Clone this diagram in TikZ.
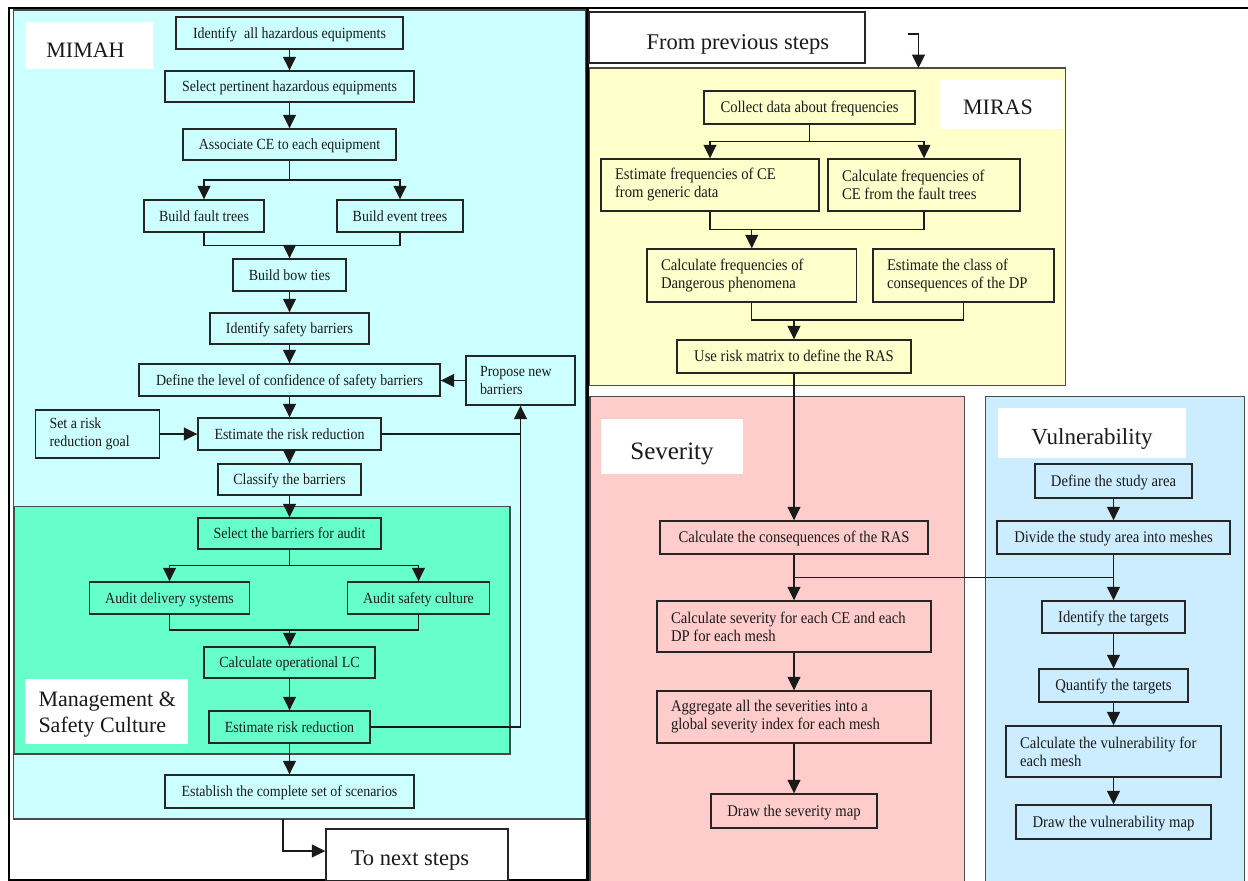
\documentclass[tikz,border=0pt]{standalone}
\usepackage{fontspec}
\setmainfont{Liberation Serif}
\newfontfamily\boxfont{Liberation Serif}[FakeStretch=0.9]
\usetikzlibrary{arrows.meta,fit,calc}
\definecolor{cyanbg}{HTML}{CCFFFF}
\definecolor{greenbg}{HTML}{66FFCC}
\definecolor{yellowbg}{HTML}{FFFFCC}
\definecolor{pinkbg}{HTML}{FFCCCC}
\definecolor{bluebg}{HTML}{CCECFF}
\definecolor{boxline}{HTML}{262626}
\definecolor{panelline}{HTML}{4A4A4A}
\definecolor{txt}{HTML}{1A1A1A}
\begin{document}
\begin{tikzpicture}[x=1pt,y=-1pt,
  boxbase/.style={draw=boxline, line width=1.4pt, inner sep=0pt, text=txt},
  box/.style={boxbase, text height=11.5pt, text depth=1.5pt, font=\boxfont\fontsize{15.5}{18}\selectfont},
  lboxl/.style={boxbase, align=flush left, font=\boxfont\fontsize{15.5}{18}\selectfont},
  rbox/.style={boxbase, text height=11.5pt, text depth=1.5pt, font=\boxfont\fontsize{16.3}{18}\selectfont},
  lbox/.style={boxbase, align=flush left, font=\boxfont\fontsize{16.3}{18}\selectfont},
  panel/.style={draw=panelline, line width=1.5pt},
  arr/.style={draw=txt, line width=1.2pt, -{Triangle[length=13.5pt,width=13pt]}},
  ln/.style={draw=txt, line width=1.2pt},
  whitelab/.style={fill=white, draw=none, inner sep=0pt},
  ttl/.style={text=txt, inner sep=0pt, anchor=base, font=\fontsize{22}{26}\selectfont},
  ttlbox/.style={draw=boxline, line width=1.4pt, fill=white, inner sep=0pt},
  sz/.style 2 args={minimum width=#1pt, minimum height=#2pt}]
\useasboundingbox (0,0) rectangle (1248,881);
\clip (0,0) rectangle (1248,881);
\fill[white] (0,0) rectangle (1248,881);
% panels
\draw[panel, fill=cyanbg] (13.5,10) rectangle (586,819);
\draw[panel, fill=greenbg] (14.5,506.5) rectangle (510,754);
\draw[panel, fill=yellowbg] (589.5,68) rectangle (1065.5,385.5);
\draw[panel, fill=pinkbg] (590,396.5) rectangle (964.5,900);
\draw[panel, fill=bluebg] (985.5,396.5) rectangle (1244.5,900);
% outer frame
\draw[line width=2pt, black] (1250,7.5) -- (9,7.5) -- (9,880) -- (587.5,880);
\draw[line width=2.5pt, black] (587.5,6.5) -- (587.5,885);
% labels
\node[whitelab, fit={(25,22) (153,69)}] (mimahlab) {};
\node[ttl] (mimahtxt) at (85.5,57.3) {MIMAH};
\node[whitelab, fit={(940,80) (1063.5,129.3)}] (miraslab) {};
\node[ttl] (mirastxt) at (998,114.3) {MIRAS};
\node[whitelab, fit={(600.5,419.3) (742.8,474)}] (sevlab) {};
\node[ttl, font=\fontsize{25}{30}\selectfont] (sevtxt) at (672,459) {Severity};
\node[whitelab, fit={(997.5,408.3) (1186.3,458.3)}] (vullab) {};
\node[ttl, font=\fontsize{23}{28}\selectfont] (vultxt) at (1092,444.3) {Vulnerability};
\node[whitelab, fit={(25,679) (187.5,743.7)}] (mgtlab) {};
\node[ttl, anchor=base west] (mgttxt1) at (38.3,706.7) {Management \&};
\node[ttl, anchor=base west] (mgttxt2) at (38.3,732.3) {Safety Culture};
\node[ttlbox, fit={(589,12) (865,63)}] (prevbox) {};
\node[ttl, font=\fontsize{22.5}{27}\selectfont] (prevtxt) at (737.8,49.3) {From previous steps};
\node[ttlbox, fit={(326,829) (508,881)}] (nextbox) {};
\node[ttl, font=\fontsize{22.5}{27}\selectfont] (nexttxt) at (410,865) {To next steps};
% MIMAH boxes
\node[box, sz={227}{32}] (a1) at (289.5,33) {Identify\ \ all hazardous equipments};
\node[box, sz={249}{31}] (a2) at (289.5,86.5) {Select pertinent hazardous equipments};
\node[box, sz={213}{31}] (a3) at (289.5,144.5) {Associate CE to each equipment};
\node[box, sz={120}{32}] (a4) at (204,216) {Build fault trees};
\node[box, sz={126}{32}] (a5) at (400,216) {Build event trees};
\node[box, sz={113}{32}] (a6) at (289.5,275) {Build bow ties};
\node[box, sz={159}{31}] (a7) at (289.5,328.5) {Identify safety barriers};
\node[box, sz={301}{32}] (a8) at (289.5,380) {Define the level of confidence of safety barriers};
\node[lboxl, sz={109}{49}, text width=81pt] (a9) at (520.5,380.5) {Propose new\\barriers};
\node[lboxl, sz={124}{48}, text width=96pt] (a10) at (97.5,434) {Set a risk\\reduction goal};
\node[box, sz={183}{32}] (a11) at (289.5,434) {Estimate the risk reduction};
\node[box, sz={143}{31}] (a12) at (289.5,479.5) {Classify the barriers};
\node[box, sz={183}{31}] (a13) at (289.5,533.5) {Select the barriers for audit};
\node[box, sz={160}{32}] (a14) at (169.5,598) {Audit delivery systems};
\node[box, sz={142}{32}] (a15) at (418.5,598) {Audit safety culture};
\node[box, sz={171}{31}] (a16) at (289.5,662.5) {Calculate operational LC};
\node[box, sz={161}{32}] (a17) at (289.5,727) {Estimate risk reduction};
\node[box, sz={249}{33}] (a18) at (289.5,791.5) {Establish the complete set of scenarios};
% MIRAS boxes
\node[rbox, sz={211}{33}] (b1) at (809.5,107.5) {Collect data about frequencies};
\node[lbox, sz={218}{52}, text width=190pt] (b2) at (710,185) {Estimate frequencies of CE\\from generic data};
\node[lbox, sz={192}{52}, text width=164pt] (b3) at (924,185) {Calculate frequencies of\\CE from the fault trees};
\node[lbox, sz={209.5}{53}, text width=181.5pt] (b4) at (751.75,275.5) {Calculate frequencies of\\Dangerous phenomena};
\node[lbox, sz={181}{53}, text width=153pt] (b5) at (963.5,275.5) {Estimate the class of\\consequences of the DP};
\node[rbox, sz={234}{33}] (b6) at (794,356.5) {Use risk matrix to define the RAS};
% Severity boxes
\node[rbox, sz={268}{33}] (c1) at (794,537.5) {Calculate the consequences of the RAS};
\node[lbox, sz={274}{51}, text width=246pt] (c2) at (794,626.5) {Calculate severity for each CE and each\\DP for each mesh};
\node[lbox, sz={274}{52}, text width=246pt] (c3) at (794,717) {Aggregate all the severities into a\\global severity index for each mesh};
\node[rbox, sz={166}{34}] (c4) at (794,811) {Draw the severity map};
% Vulnerability boxes
\node[rbox, sz={157}{34}] (d1) at (1113.5,481) {Define the study area};
\node[rbox, sz={233}{33}] (d2) at (1113.5,537.5) {Divide the study area into meshes};
\node[rbox, sz={143}{32}] (d3) at (1113.5,617) {Identify the targets};
\node[rbox, sz={149}{33}] (d4) at (1113.5,685.5) {Quantify the targets};
\node[lbox, sz={215}{51}, text width=187pt] (d5) at (1113.5,751.5) {Calculate the vulnerability for\\each mesh};
\node[rbox, sz={195}{34}] (d6) at (1113.5,822) {Draw the vulnerability map};
% coordinates
\coordinate (j1) at (289.5,180);
\coordinate (j2) at (289.5,245.5);
\coordinate (j3) at (289.5,565.5);
\coordinate (j4) at (289.5,630);
\coordinate (mbot) at (283,819);
\coordinate (p1) at (908,34);
\coordinate (p2) at (918.5,68);
\coordinate (k1) at (809.5,141.5);
\coordinate (k2) at (751.75,229.5);
\coordinate (k3) at (794,320);
\coordinate (k4) at (794,577.5);
\coordinate (k5) at (1113.5,577.5);
% MIMAH connectors
\draw[arr] (a1) -- (a2);
\draw[arr] (a2) -- (a3);
\draw[ln] (a3) -- (j1);
\draw[arr] (j1) -| (a4);
\draw[arr] (j1) -| (a5);
\draw[ln] (a4) |- (j2);
\draw[ln] (a5) |- (j2);
\draw[arr] (j2) -- (a6);
\draw[arr] (a6) -- (a7);
\draw[arr] (a7) -- (a8);
\draw[arr] (a8) -- (a11);
\draw[arr] (a9.west) -- (a9.west -| a8.east);
\draw[arr] (a10) -- (a11);
\draw[ln] (a11.east) -- (a11.east -| a9.south);
\draw[arr] (a17.east) -| (a9.south);
\draw[arr] (a11) -- (a12);
\draw[arr] (a12) -- (a13);
\draw[ln] (a13) -- (j3);
\draw[arr] (j3) -| (a14);
\draw[arr] (j3) -| (a15);
\draw[ln] (a14) |- (j4);
\draw[ln] (a15) |- (j4);
\draw[arr] (j4) -- (a16);
\draw[arr] (a16) -- (a17);
\draw[arr] (a17) -- (a18);
\draw[arr] (mbot) |- ([yshift=4pt]nextbox.west);
% MIRAS connectors
\draw[arr] (p1) -| (p2);
\draw[ln] (b1) -- (k1);
\draw[arr] (k1) -| (b2);
\draw[arr] (k1) -| (b3);
\draw[ln] (b2) |- (k2);
\draw[ln] (b3) |- (k2);
\draw[arr] (k2) -- (b4);
\draw[ln] (b4.south -| k2) |- (k3);
\draw[ln] (b5) |- (k3);
\draw[arr] (k3) -- (b6);
\draw[arr] (b6) -- (c1);
\draw[ln] (c1) -- (k4);
\draw[arr] (k4) -- (c2);
\draw[ln] (k4) -- (k5);
\draw[arr] (c2) -- (c3);
\draw[arr] (c3) -- (c4);
\draw[arr] (d1) -- (d2);
\draw[arr] (d2) -- (d3);
\draw[arr] (d3) -- (d4);
\draw[arr] (d4) -- (d5);
\draw[arr] (d5) -- (d6);
\end{tikzpicture}
\end{document}
